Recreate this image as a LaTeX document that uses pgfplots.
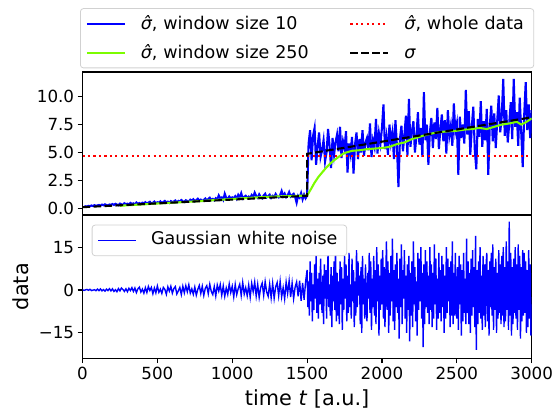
\documentclass[border=0pt]{standalone}
\usepackage{fontspec}
\setmainfont{DejaVu Sans}
\usepackage{pgfplots}
\pgfplotsset{compat=1.18}
\definecolor{lgreen}{HTML}{7CFC00}
\begin{document}
\begin{tikzpicture}
\useasboundingbox (0pt,0pt) rectangle (557pt,414pt);
\pgfplotsset{
  every axis/.append style={
    scale only axis, width=449.2pt, xmin=0, xmax=3000,
    axis line style={line width=1.1pt, black},
    tick style={line width=1.1pt, black},
    tick align=outside, major tick length=4.9pt,
    xtick pos=left, ytick pos=left,
    tick label style={font=\fontsize{16.7}{20}\selectfont},
    legend image code/.code={\draw[##1] (0pt,0pt) -- (38pt,0pt);},
  }
}
% ---------------- top panel ----------------
\begin{axis}[
  at={(82.5pt,199pt)}, anchor=south west, height=143pt,
  ymin=-0.6, ymax=12.21,
  xtick=\empty,
  ytick={0,2.5,5,7.5,10}, yticklabels={0.0,2.5,5.0,7.5,10.0},
  legend columns=2,
  legend style={at={(axis description cs:0.5,1)}, anchor=south, yshift=3.7pt,
    draw=black!18, rounded corners=3pt, fill=white, line width=0.8pt,
    inner xsep=5.3pt, inner ysep=5pt,
    font=\fontsize{17.5}{21}\selectfont,
    nodes={inner sep=0pt, align=left, text height=16pt, text depth=4pt},
    row sep=9.3pt,
    /tikz/column 2/.append style={text width=172pt},
    /tikz/column 4/.append style={text width=124pt},
    /tikz/every odd column/.append style={column sep=15pt},
    /tikz/every even column/.append style={column sep=36.6pt}},
]
\addplot[blue, line width=2.08pt] coordinates {
(10,0.12)(20,0.18)(30,0.15)(40,0.22)(50,0.19)(60,0.25)(70,0.2)(80,0.28)(90,0.22)(100,0.26)
(110,0.3)(120,0.24)(130,0.33)(140,0.27)(150,0.36)(160,0.29)(170,0.25)(180,0.34)(190,0.31)(200,0.38)
(210,0.3)(220,0.4)(230,0.33)(240,0.27)(250,0.42)(260,0.36)(270,0.31)(280,0.45)(290,0.37)(300,0.41)
(310,0.34)(320,0.48)(330,0.39)(340,0.44)(350,0.36)(360,0.52)(370,0.41)(380,0.47)(390,0.38)(400,0.5)
(410,0.45)(420,0.55)(430,0.4)(440,0.51)(450,0.58)(460,0.43)(470,0.49)(480,0.6)(490,0.46)(500,0.54)
(510,0.5)(520,0.62)(530,0.47)(540,0.57)(550,0.66)(560,0.52)(570,0.59)(580,0.48)(590,0.64)(600,0.56)
(610,0.61)(620,0.7)(630,0.54)(640,0.66)(650,0.59)(660,0.74)(670,0.63)(680,0.57)(690,0.72)(700,0.65)
(710,0.6)(720,0.77)(730,0.68)(740,0.81)(750,0.63)(760,0.73)(770,0.86)(780,0.69)(790,0.78)(800,0.66)
(810,0.75)(820,0.88)(830,0.7)(840,0.82)(850,0.95)(860,0.74)(870,0.84)(880,0.71)(890,0.9)(900,0.79)
(910,1.15)(920,0.86)(930,0.97)(940,0.75)(950,1.3)(960,0.92)(970,0.83)(980,1.05)(990,0.88)(1000,0.98)
(1010,0.9)(1020,1.08)(1030,0.84)(1040,1.2)(1050,0.97)(1060,1.35)(1070,0.89)(1080,1.02)(1090,1.12)(1100,0.94)
(1110,1.05)(1120,0.92)(1130,1.18)(1140,1.0)(1150,1.4)(1160,1.1)(1170,0.95)(1180,1.25)(1190,1.02)(1200,0.9)
(1210,1.15)(1220,1.3)(1230,0.98)(1240,1.08)(1250,1.22)(1260,0.94)(1270,1.12)(1280,1.01)(1290,1.28)(1300,1.05)
(1310,0.97)(1320,1.18)(1330,1.55)(1340,1.1)(1350,1.32)(1360,1.0)(1370,1.15)(1380,1.45)(1390,1.06)(1400,1.2)
(1410,1.3)(1420,1.02)(1430,0.5)(1440,1.12)(1450,0.95)(1460,1.36)(1470,0.8)(1480,1.22)(1490,0.9)(1500,1.15)
(1510,5.8)(1520,7.0)(1530,4.3)(1540,6.5)(1550,7.2)(1560,3.9)(1570,5.5)(1580,6.8)(1590,4.6)(1600,5.2)
(1610,6.1)(1620,4.2)(1630,5.0)(1640,7.1)(1650,5.6)(1660,3.6)(1670,6.3)(1680,4.8)(1690,5.9)(1700,6.6)
(1710,5.1)(1720,7.3)(1730,4.5)(1740,6.0)(1750,5.4)(1760,6.9)(1770,3.2)(1780,5.8)(1790,4.9)(1800,6.4)
(1810,3.1)(1820,5.7)(1830,6.8)(1840,4.4)(1850,6.2)(1860,5.0)(1870,7.0)(1880,4.7)(1890,5.9)(1900,6.3)
(1910,5.2)(1920,7.6)(1930,4.6)(1940,6.1)(1950,5.5)(1960,8.0)(1970,4.9)(1980,6.7)(1990,5.8)(2000,7.2)
(2010,9.3)(2020,5.3)(2030,6.4)(2040,4.8)(2050,7.5)(2060,5.9)(2070,6.8)(2080,4.4)(2090,7.9)(2100,5.6)
(2110,1.9)(2120,6.2)(2130,7.4)(2140,5.1)(2150,6.6)(2160,8.3)(2170,4.7)(2180,9.8)(2190,5.5)(2200,6.9)
(2210,7.8)(2220,5.0)(2230,6.4)(2240,8.6)(2250,5.7)(2260,7.2)(2270,4.6)(2280,10.4)(2290,6.1)(2300,7.5)
(2310,3.9)(2320,6.8)(2330,8.1)(2340,5.4)(2350,7.7)(2360,6.2)(2370,9.0)(2380,5.3)(2390,7.1)(2400,8.4)
(2410,6.0)(2420,7.9)(2430,4.9)(2440,8.8)(2450,6.5)(2460,7.4)(2470,5.6)(2480,9.4)(2490,6.9)(2500,7.6)
(2510,3.0)(2520,8.2)(2530,6.3)(2540,7.5)(2550,5.8)(2560,10.6)(2570,6.6)(2580,8.7)(2590,4.8)(2600,7.3)
(2610,9.1)(2620,5.2)(2630,3.5)(2640,8.0)(2650,6.4)(2660,9.6)(2670,5.5)(2680,7.8)(2690,6.1)(2700,8.9)
(2710,3.0)(2720,7.4)(2730,9.2)(2740,6.0)(2750,8.5)(2760,5.4)(2770,7.9)(2780,10.1)(2790,6.8)(2800,8.3)
(2810,11.6)(2820,6.5)(2830,8.8)(2840,5.9)(2850,7.6)(2860,9.5)(2870,6.2)(2880,11.6)(2890,7.3)(2900,8.6)
(2910,5.6)(2920,9.9)(2930,6.8)(2940,3.7)(2950,8.4)(2960,11.3)(2970,7.0)(2980,9.3)(2990,6.3)(3000,8.8)
};
\addlegendentry{\textit{σ̂}, window size 10}
\addplot[red, line width=2.08pt, dash pattern=on 2.08pt off 3.4pt] coordinates {(0,4.72)(3000,4.72)};
\addlegendentry{\textit{σ̂}, whole data}
\addplot[lgreen, line width=2.08pt] coordinates {
(250,0.22)(300,0.27)(400,0.35)(500,0.43)(600,0.5)(700,0.58)(800,0.66)(900,0.75)(1000,0.83)
(1100,0.92)(1200,1.0)(1300,1.06)(1400,1.1)(1450,1.12)(1500,1.15)(1525,1.7)(1550,2.3)(1575,2.8)
(1600,3.2)(1625,3.6)(1650,3.95)(1675,4.25)(1700,4.5)(1725,4.75)(1750,4.95)(1775,5.05)(1800,5.15)
(1850,5.2)(1900,5.3)(1950,5.35)(2000,5.4)(2050,5.5)(2100,5.75)(2150,5.9)(2200,6.2)(2250,6.4)
(2300,6.6)(2350,6.75)(2400,6.85)(2450,6.9)(2500,6.95)(2550,7.05)(2600,7.1)(2650,7.2)(2700,7.1)
(2750,7.3)(2800,7.5)(2850,7.6)(2900,7.75)(2930,7.5)(2960,7.7)(3000,8.05)
};
\addlegendentry{\textit{σ̂}, window size 250}
\addplot[black, line width=2.08pt, dash pattern=on 7.7pt off 3.3pt] coordinates {(0,0.1)(1500,1.12)(1500,4.88)(3000,8.15)};
\addlegendentry{\textit{σ}}
\end{axis}
% ---------------- bottom panel ----------------
\begin{axis}[
  at={(82.5pt,55.7pt)}, anchor=south west, height=143.3pt,
  ymin=-23.94, ymax=26.29,
  xtick={0,500,1000,1500,2000,2500,3000},
  xticklabels={0,500,1000,1500,2000,2500,3000},
  ytick={-15,0,15}, yticklabels={−15,0,15},
  xlabel={time \textit{t} [a.u.]},
  xlabel style={font=\fontsize{20.8}{24}\selectfont, at={(axis description cs:0.5,-0.326)}, anchor=base},
  ylabel={data},
  ylabel style={font=\fontsize{20.8}{24}\selectfont, at={(axis description cs:-0.138,0.5)}, anchor=center},
  legend style={at={(axis description cs:0,1)}, anchor=north west, xshift=9.2pt, yshift=-9.7pt,
    draw=black!18, rounded corners=3pt, fill=white, line width=0.8pt,
    inner xsep=5.6pt, inner ysep=6.8pt,
    font=\fontsize{17.5}{21}\selectfont,
    nodes={inner sep=0pt, text width=190pt, align=left, text height=13pt, text depth=4pt},
    /tikz/every odd column/.append style={column sep=14pt}},
]
\addplot[blue, line width=1.4pt] coordinates {
(0,0.1)(10,-0.15)(20,0.05)(30,0.2)(40,-0.1)(50,0.25)(60,-0.2)(70,-0.05)(80,0.1)(90,-0.25)
(100,0.3)(110,-0.2)(120,0.35)(130,-0.3)(140,0.15)(150,-0.4)(160,0.3)(170,-0.2)(180,0.45)(190,-0.3)
(200,0.4)(210,-0.5)(220,0.1)(230,-0.6)(240,0.5)(250,-0.3)(260,0.7)(270,0.2)(280,-0.5)(290,0.4)
(300,-0.6)(310,0.6)(320,-0.2)(330,0.8)(340,-0.5)(350,0.7)(360,-0.9)(370,0.4)(380,1.0)(390,-0.7)
(400,0.3)(410,-1.1)(420,0.8)(430,-0.9)(440,1.2)(450,-0.2)(460,0.9)(470,-1.3)(480,0.7)(490,-1.0)
(500,1.4)(510,-0.8)(520,0.3)(530,-1.2)(540,0.9)(550,0.2)(560,-1.5)(570,1.1)(580,-0.4)(590,1.3)
(600,-1.1)(610,0.5)(620,1.2)(630,-1.4)(640,-0.3)(650,0.9)(660,-1.6)(670,1.3)(680,-1.0)(690,1.5)
(700,-0.6)(710,1.8)(720,-1.1)(730,0.4)(740,-1.5)(750,1.0)(760,-1.8)(770,0.2)(780,1.6)(790,-1.2)
(800,1.3)(810,-1.9)(820,0.6)(830,1.5)(840,-1.3)(850,2.0)(860,-0.5)(870,-1.6)(880,1.2)(890,-2.1)
(900,1.7)(910,-0.4)(920,1.9)(930,-1.8)(940,1.4)(950,-2.2)(960,0.7)(970,-1.5)(980,2.1)(990,-0.9)
(1000,1.3)(1010,-2.4)(1020,1.9)(1030,-1.6)(1040,0.5)(1050,2.0)(1060,-1.9)(1070,2.6)(1080,-1.4)(1090,0.8)
(1100,-2.0)(1110,1.7)(1120,-2.5)(1130,2.3)(1140,-0.6)(1150,2.8)(1160,-2.1)(1170,1.9)(1180,-2.6)(1190,0.9)
(1200,2.4)(1210,-1.8)(1220,2.9)(1230,-0.7)(1240,-2.2)(1250,2.0)(1260,-2.7)(1270,2.3)(1280,-2.9)(1290,1.1)
(1300,2.6)(1310,-2.0)(1320,3.0)(1330,-2.4)(1340,0.8)(1350,-3.1)(1360,2.7)(1370,-1.2)(1380,3.2)(1390,-2.5)
(1400,2.4)(1410,-3.0)(1420,1.0)(1430,2.8)(1440,-2.2)(1450,3.3)(1460,-3.8)(1470,2.5)(1480,-3.4)(1490,2.9)
(1500,7)(1505,-6)(1510,3)(1515,-9)(1520,10)(1525,-4)(1530,6)(1535,-11)(1540,2)(1545,-7)(1550,9)(1555,-3)(1560,12)(1565,-8)(1570,4)(1575,-10)(1580,6)(1585,-5)(1590,11)(1595,-2)
(1600,-8)(1605,5)(1610,-12)(1615,9)(1620,-3)(1625,7)(1630,-10)(1635,4)(1640,13)(1645,-6)(1650,2)(1655,-9)(1660,8)(1665,-13)(1670,5)(1675,-4)(1680,10)(1685,-7)(1690,15)(1695,-11)
(1700,6)(1705,-9)(1710,3)(1715,-12)(1720,10)(1725,-5)(1730,8)(1735,-14)(1740,4)(1745,-7)(1750,12)(1755,-3)(1760,9)(1765,-11)(1770,5)(1775,-8)(1780,13)(1785,-6)(1790,2)(1795,-10)
(1800,11)(1805,-4)(1810,7)(1815,-13)(1820,3)(1825,-9)(1830,14)(1835,-6)(1840,10)(1845,-2)(1850,5)(1855,-12)(1860,8)(1865,-15)(1870,12)(1875,-5)(1880,4)(1885,-10)(1890,9)(1895,-7)
(1900,-11)(1905,6)(1910,-3)(1915,13)(1920,-8)(1925,10)(1930,-14)(1935,4)(1940,-6)(1945,12)(1950,-9)(1955,7)(1960,-12)(1965,15)(1970,-4)(1975,9)(1980,-16)(1985,5)(1990,-7)(1995,11)
(2000,-5)(2005,14)(2010,-10)(2015,8)(2020,-13)(2025,3)(2030,17)(2035,-7)(2040,10)(2045,-15)(2050,6)(2055,-9)(2060,12)(2065,-4)(2070,18)(2075,-11)(2080,7)(2085,-14)(2090,9)(2095,-6)
(2100,13)(2105,-8)(2110,4)(2115,-17)(2120,11)(2125,-6)(2130,16)(2135,-12)(2140,7)(2145,-3)(2150,14)(2155,-10)(2160,5)(2165,-15)(2170,9)(2175,-7)(2180,12)(2185,-18)(2190,6)(2195,-9)
(2200,10)(2205,-13)(2210,17)(2215,-5)(2220,8)(2225,-11)(2230,3)(2235,-16)(2240,13)(2245,-7)(2250,11)(2255,-4)(2260,15)(2265,-10)(2270,6)(2275,-20)(2280,9)(2285,-12)(2290,14)(2295,-6)
(2300,10)(2305,-8)(2310,5)(2315,-12)(2320,15)(2325,-7)(2330,9)(2335,-13)(2340,6)(2345,-10)(2350,16)(2355,-5)(2360,11)(2365,-14)(2370,4)(2375,-10)(2380,13)(2385,-8)(2390,7)(2395,-11)
(2400,12)(2405,-6)(2410,9)(2415,-15)(2420,5)(2425,-10)(2430,15)(2435,-8)(2440,11)(2445,-4)(2450,8)(2455,-13)(2460,10)(2465,-9)(2470,17)(2475,-12)(2480,6)(2485,-9)(2490,13)(2495,-7)
(2500,-10)(2505,8)(2510,-14)(2515,12)(2520,-5)(2525,9)(2530,-16)(2535,7)(2540,-11)(2545,13)(2550,-8)(2555,4)(2560,-12)(2565,18)(2570,-8)(2575,10)(2580,-12)(2585,6)(2590,-15)(2595,11)
(2600,-9)(2605,14)(2610,-6)(2615,8)(2620,-13)(2625,19)(2630,-21)(2635,7)(2640,-12)(2645,10)(2650,-8)(2655,15)(2660,-10)(2665,5)(2670,-14)(2675,12)(2680,-9)(2685,9)(2690,-13)(2695,8)
(2700,13)(2705,-11)(2710,7)(2715,-16)(2720,10)(2725,-6)(2730,13)(2735,-9)(2740,16)(2745,-14)(2750,8)(2755,-7)(2760,11)(2765,-15)(2770,6)(2775,-10)(2780,14)(2785,-8)(2790,9)(2795,-12)
(2800,12)(2805,-9)(2810,15)(2815,-13)(2820,8)(2825,-11)(2830,17)(2835,-7)(2840,10)(2845,-14)(2850,24)(2855,-9)(2860,13)(2865,-16)(2870,8)(2875,-12)(2880,11)(2885,-8)(2890,15)(2895,-10)
(2900,9)(2905,-14)(2910,16)(2915,-7)(2920,12)(2925,-17)(2930,8)(2935,-11)(2940,14)(2945,-9)(2950,13)(2955,-8)(2960,10)(2965,-15)(2970,7)(2975,-13)(2980,14)(2985,-10)(2990,9)(2995,-16)(3000,-5)
};
\addlegendentry{Gaussian white noise}
\end{axis}
\end{tikzpicture}
\end{document}
